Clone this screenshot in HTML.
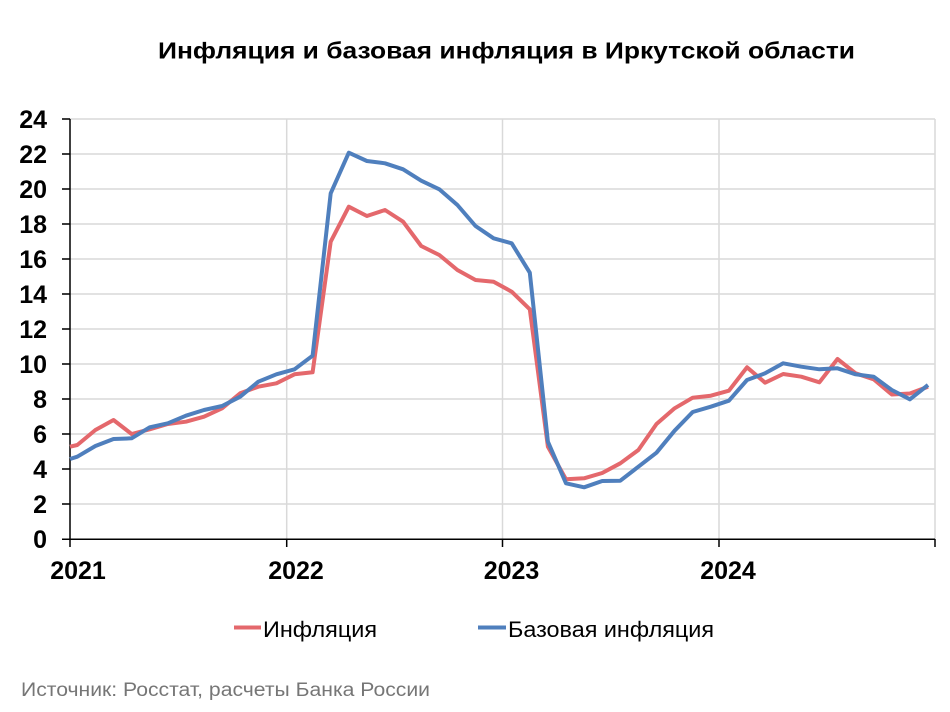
<!DOCTYPE html>
<html><head><meta charset="utf-8"><style>
html,body{margin:0;padding:0;background:#fff;}
svg{display:block;}
text{font-family:"Liberation Sans","DejaVu Sans",sans-serif;}
</style></head><body>
<svg width="950" height="712" viewBox="0 0 950 712" xmlns="http://www.w3.org/2000/svg">
<rect width="950" height="712" fill="#fff"/>
<text x="158" y="58.5" font-size="23" font-weight="bold" fill="#000" textLength="697" lengthAdjust="spacingAndGlyphs">Инфляция и базовая инфляция в Иркутской области</text>
<g stroke="#d9d9d9" stroke-width="1.5">
<line x1="62" y1="119" x2="935" y2="119"/>
<line x1="62" y1="154" x2="935" y2="154"/>
<line x1="62" y1="189" x2="935" y2="189"/>
<line x1="62" y1="224" x2="935" y2="224"/>
<line x1="62" y1="259" x2="935" y2="259"/>
<line x1="62" y1="294" x2="935" y2="294"/>
<line x1="62" y1="329" x2="935" y2="329"/>
<line x1="62" y1="364" x2="935" y2="364"/>
<line x1="62" y1="399" x2="935" y2="399"/>
<line x1="62" y1="434" x2="935" y2="434"/>
<line x1="62" y1="469" x2="935" y2="469"/>
<line x1="62" y1="504" x2="935" y2="504"/>
<line x1="286.7" y1="119" x2="286.7" y2="539"/>
<line x1="502.5" y1="119" x2="502.5" y2="539"/>
<line x1="719" y1="119" x2="719" y2="539"/>
<line x1="935" y1="119" x2="935" y2="539"/>
</g>
<g stroke="#000" stroke-width="1.5">
<line x1="70" y1="119" x2="70" y2="547"/>
<line x1="62" y1="539.3" x2="935" y2="539.3"/>
<line x1="62" y1="119" x2="70" y2="119"/>
<line x1="62" y1="154" x2="70" y2="154"/>
<line x1="62" y1="189" x2="70" y2="189"/>
<line x1="62" y1="224" x2="70" y2="224"/>
<line x1="62" y1="259" x2="70" y2="259"/>
<line x1="62" y1="294" x2="70" y2="294"/>
<line x1="62" y1="329" x2="70" y2="329"/>
<line x1="62" y1="364" x2="70" y2="364"/>
<line x1="62" y1="399" x2="70" y2="399"/>
<line x1="62" y1="434" x2="70" y2="434"/>
<line x1="62" y1="469" x2="70" y2="469"/>
<line x1="62" y1="504" x2="70" y2="504"/>
<line x1="286.7" y1="539" x2="286.7" y2="547"/>
<line x1="502.5" y1="539" x2="502.5" y2="547"/>
<line x1="719" y1="539" x2="719" y2="547"/>
<line x1="935" y1="539" x2="935" y2="547"/>
</g>
<g font-size="25" font-weight="bold" fill="#000" text-anchor="end">
<text x="47" y="128">24</text>
<text x="47" y="163">22</text>
<text x="47" y="198">20</text>
<text x="47" y="233">18</text>
<text x="47" y="268">16</text>
<text x="47" y="303">14</text>
<text x="47" y="338">12</text>
<text x="47" y="373">10</text>
<text x="47" y="408">8</text>
<text x="47" y="443">6</text>
<text x="47" y="478">4</text>
<text x="47" y="513">2</text>
<text x="47" y="548">0</text>
</g>
<g font-size="25" font-weight="bold" fill="#000" text-anchor="middle">
<text x="78" y="579">2021</text>
<text x="296" y="579">2022</text>
<text x="511.5" y="579">2023</text>
<text x="728" y="579">2024</text>
</g>
<polyline fill="none" stroke="#e4686c" stroke-width="4" stroke-linejoin="round" points="70,446.7 77.3,445 95.4,430 113.5,420 131.6,434 149.7,429.3 167.8,424 185.9,421.7 204,416.7 222.1,408.3 240.2,393.3 258.3,386.7 276.4,383.3 294.5,374.3 312.6,372.3 330.7,241.7 348.8,206.7 366.9,216 385,210 403.1,221.7 421.2,246 439.3,255 457.4,270 475.5,280 493.6,281.7 511.7,291.7 529.8,309.3 547.9,446.7 566,479.3 584.1,478.3 602.2,473 620.3,463.3 638.4,450 656.5,424 674.6,408.3 692.7,397.7 710.8,395.7 728.9,390.7 747,367.3 765.1,382.7 783.2,374 801.3,376.7 819.4,382.3 837.5,359 855.6,373.3 873.7,379.3 891.8,394.5 909.9,393.5 928,386.7"/>
<polyline fill="none" stroke="#4f7fbd" stroke-width="4" stroke-linejoin="round" points="70,459 77.3,456.7 95.4,446 113.5,439 131.6,438.3 149.7,427.3 167.8,423.3 185.9,415.7 204,410 222.1,406 240.2,396.7 258.3,381.7 276.4,374.3 294.5,369.3 312.6,355.7 330.7,193.3 348.8,152.7 366.9,161 385,163.3 403.1,169.3 421.2,180.7 439.3,189.3 457.4,205 475.5,226 493.6,238.3 511.7,243.3 529.8,272.7 547.9,441.7 566,483.3 584.1,487.3 602.2,481 620.3,480.7 638.4,466.7 656.5,452.7 674.6,430.7 692.7,412 710.8,406.7 728.9,400.7 747,380 765.1,373.3 783.2,363.3 801.3,366.7 819.4,369.3 837.5,368.3 855.6,374.3 873.7,376.7 891.8,390 909.9,399.3 928,385"/>
<line x1="234" y1="627.5" x2="261" y2="627.5" stroke="#e4686c" stroke-width="4"/>
<text x="263" y="637" font-size="22" fill="#000" textLength="114" lengthAdjust="spacingAndGlyphs">Инфляция</text>
<line x1="478" y1="627.5" x2="506" y2="627.5" stroke="#4f7fbd" stroke-width="4"/>
<text x="508" y="637" font-size="22" fill="#000" textLength="206" lengthAdjust="spacingAndGlyphs">Базовая инфляция</text>
<text x="21" y="696" font-size="19" fill="#767676" textLength="409" lengthAdjust="spacingAndGlyphs">Источник: Росстат, расчеты Банка России</text>
</svg>
</body></html>
